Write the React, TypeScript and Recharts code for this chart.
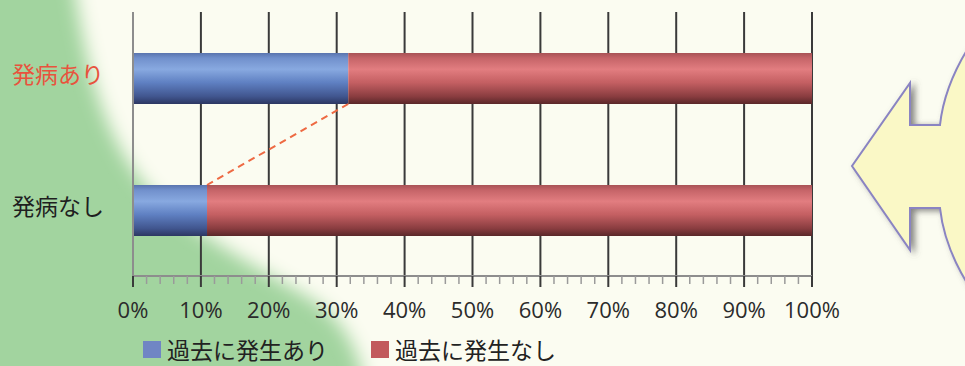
import { BarChart, Bar, XAxis, YAxis, CartesianGrid } from 'recharts';

const categories = ['発病あり', '発病なし'];
const pastYes = [31.7, 10.9];
const pastNo = [68.3, 89.1];
const categoryColors = ['#e8533d', '#1f1f1f'];
const seriesNames = ['過去に発生あり', '過去に発生なし'];
const seriesColors = ['#7086c4', '#c25a5c'];
const majorTicks = [0, 10, 20, 30, 40, 50, 60, 70, 80, 90, 100];

const chartData = categories.map((name, i) => ({ name, yes: pastYes[i], no: pastNo[i] }));
// every 2% gets a small tick mark, labels only on the tens
const allTicks = Array.from({ length: 51 }, (_, i) => i * 2);

const jp = "'Noto Sans CJK JP', 'Noto Sans', sans-serif";

// end of the top blue bar, so the bottom one can draw the dashed link
let linkStart: { x: number; y: number } | null = null;

function BlueBar(props: any) {
  const { x, y, width, height, index } = props;
  const endX = x + width;
  let link = null;
  if (index === 0) {
    linkStart = { x: endX, y: y + height };
  } else if (linkStart) {
    link = (
      <line x1={linkStart.x} y1={linkStart.y} x2={endX} y2={y}
        stroke="#ee6a43" strokeWidth={2} strokeDasharray="7 5" />
    );
  }
  return (
    <g>
      <rect x={x} y={y} width={width} height={height} fill="url(#blueGrad)" />
      {link}
    </g>
  );
}

function RedBar(props: any) {
  const { x, y, width, height } = props;
  return <rect x={x} y={y} width={width} height={height} fill="url(#redGrad)" />;
}

function PercentTick({ x, y, payload }: any) {
  const v = payload.value;
  const major = majorTicks.includes(v);
  return (
    <g>
      <line x1={x} y1={y} x2={x} y2={y + (major ? 11 : 8)}
        stroke={major ? '#3a3a3a' : '#9a9a9a'} strokeWidth={major ? 2 : 1.5} />
      {major && (
        <text x={x} y={y + 42} textAnchor="middle" fill="#2b2b2b" fontSize={22}
          fontFamily="'Open Sans', sans-serif">
          {v}%
        </text>
      )}
    </g>
  );
}

function CategoryTick({ y, payload }: any) {
  const i = categories.indexOf(payload.value);
  return (
    <text x={12} y={y + 5} textAnchor="start" fill={categoryColors[i]} fontSize={23} fontFamily={jp}>
      {payload.value}
    </text>
  );
}

// page backdrop: green corner fading into a cream sheet
function Backdrop() {
  return (
    <svg width={965} height={366} style={{ position: 'absolute', left: 0, top: 0 }}>
      <defs>
        <filter id="soft" filterUnits="userSpaceOnUse" x={-100} y={-100} width={1200} height={600}>
          <feGaussianBlur stdDeviation={9} />
        </filter>
      </defs>
      <rect x={0} y={0} width={965} height={366} fill="#a2d49f" />
      <path
        d="M 70 -40 C 85 60, 100 150, 170 210 C 220 250, 290 285, 320 305 C 345 325, 360 350, 368 400 L 1050 400 L 1050 -40 Z"
        fill="#fbfcf1" filter="url(#soft)"
      />
    </svg>
  );
}

function Arrow() {
  return (
    <svg width={965} height={366} style={{ position: 'absolute', left: 0, top: 0, pointerEvents: 'none' }}>
      <defs>
        <filter id="arrowShadow" x="-20%" y="-20%" width="140%" height="140%">
          <feDropShadow dx={4} dy={2} stdDeviation={3} floodColor="#555" floodOpacity={0.7} />
        </filter>
      </defs>
      <path
        d="M 967 50 Q 944 88 940 125 L 910 125 L 910 83 L 852 166 L 910 250 L 910 208 L 940 208 Q 944 245 967 283 L 990 283 L 990 50 Z"
        fill="#faf8c6" stroke="#8a84c2" strokeWidth={2} filter="url(#arrowShadow)"
      />
    </svg>
  );
}

export default function App() {
  return (
    <div style={{ position: 'absolute', left: 0, top: 0, width: 965, height: 366, overflow: 'hidden' }}>
      <Backdrop />
      <BarChart
        width={965}
        height={366}
        data={chartData}
        layout="vertical"
        margin={{ top: 12, right: 153, bottom: 0, left: 0 }}
        barSize={51}
      >
        <defs>
          <linearGradient id="blueGrad" x1="0" y1="0" x2="0" y2="1">
            <stop offset="0%" stopColor="#5a74ae" />
            <stop offset="10%" stopColor="#7190cc" />
            <stop offset="32%" stopColor="#88a9e0" />
            <stop offset="58%" stopColor="#5f80c2" />
            <stop offset="85%" stopColor="#41568f" />
            <stop offset="100%" stopColor="#2c3762" />
          </linearGradient>
          <linearGradient id="redGrad" x1="0" y1="0" x2="0" y2="1">
            <stop offset="0%" stopColor="#a85356" />
            <stop offset="10%" stopColor="#c56468" />
            <stop offset="32%" stopColor="#e27d80" />
            <stop offset="58%" stopColor="#c45f62" />
            <stop offset="85%" stopColor="#8a3d40" />
            <stop offset="100%" stopColor="#5a2729" />
          </linearGradient>
        </defs>
        <CartesianGrid
          horizontal={false}
          stroke="#3a3a3a"
          strokeWidth={2}
          verticalCoordinatesGenerator={({ offset }: any) =>
            majorTicks.map((v) => offset.left + (v / 100) * offset.width)
          }
        />
        <XAxis
          type="number"
          domain={[0, 100]}
          ticks={allTicks}
          interval={0}
          height={90}
          tickSize={0}
          tickMargin={0}
          tickLine={false}
          axisLine={{ stroke: '#8d8d8d', strokeWidth: 2 }}
          tick={<PercentTick />}
        />
        <YAxis
          type="category"
          dataKey="name"
          width={133}
          tickLine={false}
          axisLine={{ stroke: '#8d8d8d', strokeWidth: 2 }}
          tick={<CategoryTick />}
        />
        <Bar dataKey="yes" name={seriesNames[0]} stackId="a" shape={<BlueBar />} isAnimationActive={false} />
        <Bar dataKey="no" name={seriesNames[1]} stackId="a" shape={<RedBar />} isAnimationActive={false} />
      </BarChart>

      <div
        style={{
          position: 'absolute', left: 143, top: 338, display: 'flex', alignItems: 'center',
          fontFamily: jp, fontSize: 23, lineHeight: '23px', color: '#222',
        }}
      >
        {seriesNames.map((n, i) => (
          <div key={n} style={{ display: 'flex', alignItems: 'center', marginRight: 43 }}>
            <span style={{ width: 18, height: 17, background: seriesColors[i], marginRight: 6, display: 'inline-block' }} />
            <span>{n}</span>
          </div>
        ))}
      </div>

      <Arrow />
    </div>
  );
}
